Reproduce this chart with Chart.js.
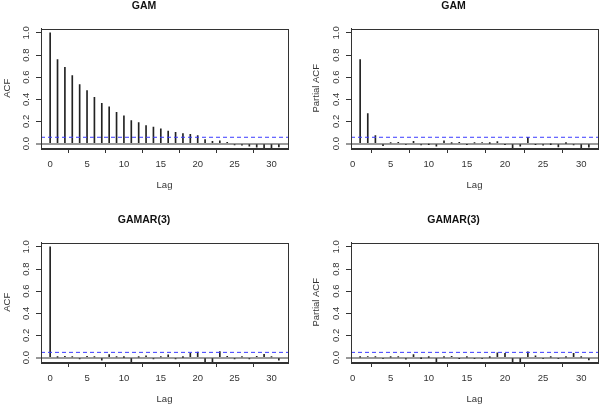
<!DOCTYPE html>
<html>
<head>
<meta charset="utf-8">
<script src="https://cdn.jsdelivr.net/npm/chart.js@4/dist/chart.umd.min.js"></script>
<style>
  html, body { margin: 0; padding: 0; background: #fff; overflow: hidden; }
  .panel { position: absolute; width: 300px; height: 203px; }
</style>
</head>
<body>
<div class="panel" style="left:0;top:-11px"><canvas id="c1" width="300" height="203"></canvas></div>
<div class="panel" style="left:300px;top:-11px"><canvas id="c2" width="300" height="203"></canvas></div>
<div class="panel" style="left:0;top:203px"><canvas id="c3" width="300" height="203"></canvas></div>
<div class="panel" style="left:300px;top:203px"><canvas id="c4" width="300" height="203"></canvas></div>
<script>
// lags
const lagsAcf = [0, 1, 2, 3, 4, 5, 6, 7, 8, 9, 10, 11, 12, 13, 14, 15, 16, 17, 18, 19, 20, 21, 22, 23, 24, 25, 26, 27, 28, 29, 30, 31]
const lagsPacf = [1, 2, 3, 4, 5, 6, 7, 8, 9, 10, 11, 12, 13, 14, 15, 16, 17, 18, 19, 20, 21, 22, 23, 24, 25, 26, 27, 28, 29, 30, 31]

// GAM residuals
const gamAcf = [1.0, 0.759, 0.690, 0.614, 0.533, 0.479, 0.419, 0.364, 0.331, 0.283, 0.250, 0.208, 0.190, 0.163, 0.148, 0.133,
  0.114, 0.102, 0.090, 0.084, 0.072, 0.036, 0.021, 0.024, 0.012, -0.012, -0.015, -0.024, -0.033, -0.036, -0.040, -0.030]
const gamPacf = [0.759, 0.271, 0.072, -0.018, 0.006, 0.012, -0.009, 0.021, -0.012, -0.004, -0.024, 0.024, 0.003, 0.012, -0.006,
  0.006, 0.009, 0.002, 0.018, -0.006, -0.045, -0.024, 0.057, -0.006, -0.015, -0.003, -0.030, 0.001, -0.012, -0.040, -0.033]

// GAMAR(3) residuals
const gamarAcf = [1.0, 0.003, 0.012, 0.006, -0.012, 0.012, 0.006, -0.024, 0.027, 0.006, 0.002, -0.045, 0.003, 0.015, -0.012, 0.006,
  0.024, -0.012, 0.002, 0.039, 0.050, -0.045, -0.036, 0.054, 0.012, -0.012, 0.006, -0.012, 0.012, 0.030, 0.006, -0.024]
const gamarPacf = [0.003, 0.009, 0.006, -0.009, 0.004, 0.006, -0.015, 0.027, -0.003, 0.002, -0.042, 0.003, 0.012, -0.006, 0.004,
  -0.009, -0.009, 0.002, 0.042, 0.039, -0.042, -0.042, 0.051, 0.015, -0.009, 0.004, -0.009, 0.004, 0.039, 0.004, -0.021]

// confidence bounds (dashed blue)
const ciGam = 0.057
const ciGamar = 0.047

// axis ranges, as R pads them
const acfRange = [-1.24, 32.24]
const pacfRange = [-0.2, 32.2]
const yRange = [-0.04, 1.04]

const FONT = "'Liberation Sans', Arial, sans-serif"
const INK = '#333'

// box round the plot area, like R's box()
const boxPlugin = {
  id: 'box',
  afterDraw(chart) {
    const a = chart.chartArea
    const ctx = chart.ctx
    ctx.save()
    ctx.strokeStyle = INK
    ctx.lineWidth = 1
    ctx.strokeRect(Math.round(a.left) + 0.5, Math.round(a.top) + 0.5, Math.round(a.right - a.left), Math.round(a.bottom - a.top))
    ctx.restore()
  }
}

function makePanel(id, title, yTitle, lags, values, ci, xRange, leftPad, rightPad, yWidth) {
  new Chart(document.getElementById(id), {
    type: 'bar',
    data: {
      datasets: [
        {
          type: 'line',
          data: [{ x: xRange[0], y: ci }, { x: xRange[1], y: ci }],
          borderColor: '#3b3bff',
          borderWidth: 1,
          borderDash: [4, 3],
          pointRadius: 0,
        },
        {
          data: lags.map((l, i) => ({ x: l, y: values[i] })),
          backgroundColor: '#222',
          barThickness: 1,
          borderWidth: 0,
          grouped: false,
        },
      ],
    },
    options: {
      responsive: false,
      animation: false,
      layout: { padding: { left: leftPad, right: rightPad, top: 0, bottom: 0 } },
      plugins: {
        legend: { display: false },
        tooltip: { enabled: false },
        title: {
          display: true,
          text: title,
          color: '#111',
          font: { family: FONT, size: 10.5, weight: 'bold' },
          padding: { top: 11, bottom: 15.9 },
        },
      },
      scales: {
        x: {
          type: 'linear',
          min: xRange[0],
          max: xRange[1],
          offset: false,
          afterFit: s => { s.height = 44 },
          border: { display: true, color: INK },
          grid: { drawOnChartArea: false, tickLength: 5, tickColor: INK },
          ticks: { stepSize: 5, includeBounds: false, padding: 6, color: '#333', maxRotation: 0,
            font: { family: FONT, size: 9.5 } },
          title: { display: true, text: 'Lag', color: '#333', font: { family: FONT, size: 9.5 }, padding: { top: 0, bottom: 1 } },
        },
        y: {
          min: yRange[0],
          max: yRange[1],
          afterFit: s => { s.width = yWidth },
          border: { display: true, color: INK },
          grid: {
            color: c => (c.tick && c.tick.value === 0 ? '#9a9a9a' : 'rgba(0,0,0,0)'),
            lineWidth: c => (c.tick && c.tick.value === 0 ? 2 : 1),
            tickLength: 5,
            tickColor: INK,
            tickWidth: 1,
          },
          ticks: {
            stepSize: 0.2,
            includeBounds: false,
            minRotation: 90,
            maxRotation: 90,
            crossAlign: 'center',
            padding: 3,
            color: '#333',
            font: { family: FONT, size: 9.5 },
            callback: v => v.toFixed(1),
          },
          title: { display: true, text: yTitle, color: '#333', font: { family: FONT, size: 9.5 }, padding: { top: 1.3, bottom: 0 } },
        },
      },
    },
    plugins: [boxPlugin],
  })
}

makePanel('c1', 'GAM', 'ACF', lagsAcf, gamAcf, ciGam, acfRange, 0, 12, 41)
makePanel('c2', 'GAM', 'Partial ACF', lagsPacf, gamPacf, ciGam, pacfRange, 9, 2, 42)
makePanel('c3', 'GAMAR(3)', 'ACF', lagsAcf, gamarAcf, ciGamar, acfRange, 0, 12, 41)
makePanel('c4', 'GAMAR(3)', 'Partial ACF', lagsPacf, gamarPacf, ciGamar, pacfRange, 9, 2, 42)
</script>
</body>
</html>
